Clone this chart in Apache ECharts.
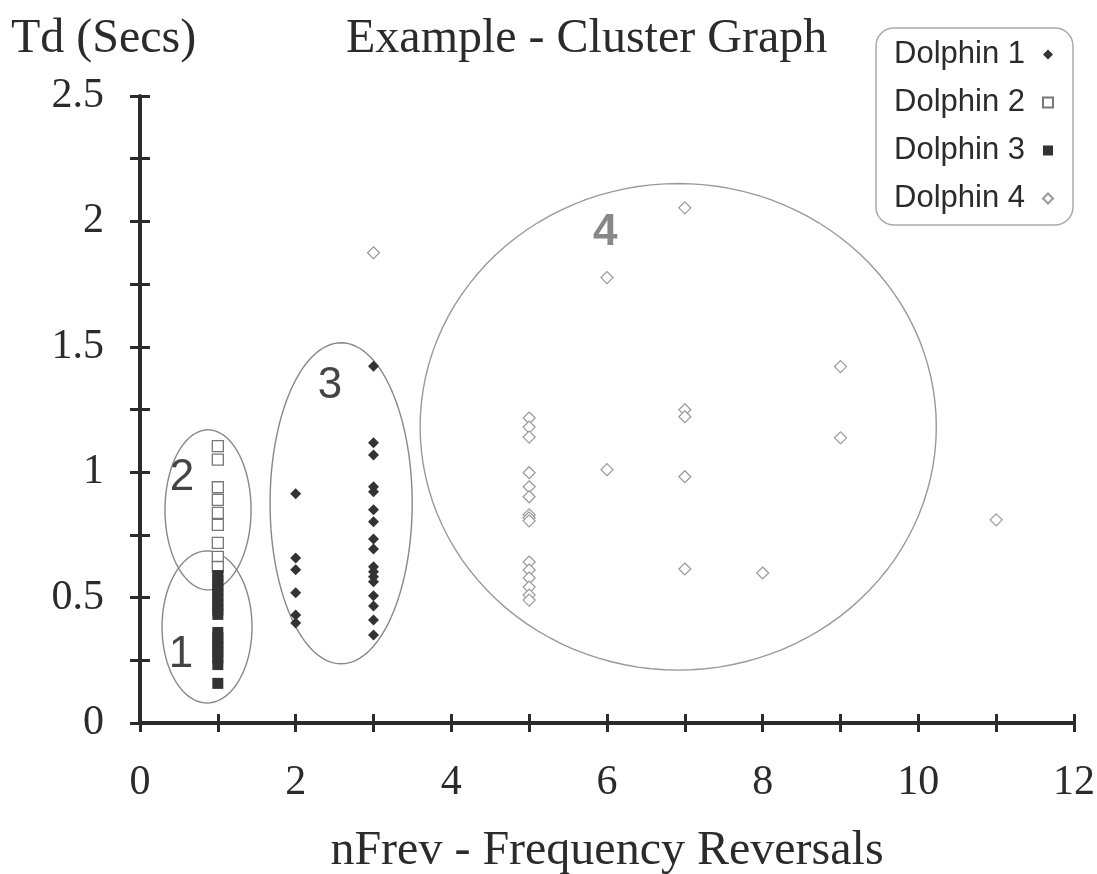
<!DOCTYPE html>
<html>
<head>
<meta charset="utf-8">
<script src="https://cdn.jsdelivr.net/npm/echarts@6/dist/echarts.min.js"></script>
<style>html,body{margin:0;padding:0;background:#fff;}#chart{width:1097px;height:874px;}</style>
</head>
<body>
<div id="chart"></div>
<script>
// Dolphin 1 (filled diamonds)
const dolphin1X = [2, 2, 2, 2, 2, 2, 3, 3, 3, 3, 3, 3, 3, 3, 3, 3, 3, 3, 3, 3, 3, 3, 3];
const dolphin1Y = [0.914, 0.658, 0.611, 0.519, 0.431, 0.399,
  1.422, 1.117, 1.069, 0.942, 0.922, 0.850, 0.802, 0.734, 0.694, 0.623, 0.603, 0.583, 0.563, 0.507, 0.467, 0.411, 0.351];
// Dolphin 2 (open squares)
const dolphin2X = [1, 1, 1, 1, 1, 1, 1, 1, 1];
const dolphin2Y = [1.104, 1.05, 0.94, 0.89, 0.838, 0.79, 0.718, 0.662, 0.622];
// Dolphin 3 (filled squares)
const dolphin3X = [1, 1, 1, 1, 1, 1, 1, 1, 1, 1, 1, 1, 1, 1, 1, 1, 1];
const dolphin3Y = [0.588, 0.57, 0.55, 0.53, 0.51, 0.49, 0.47, 0.45, 0.433,
  0.361, 0.34, 0.32, 0.30, 0.28, 0.26, 0.233, 0.158];
// Dolphin 4 (open diamonds)
const dolphin4X = [3, 6, 7, 7, 7, 6, 7, 7, 8, 9, 9, 11,
  5, 5, 5, 5, 5, 5, 5, 5, 5, 5, 5, 5, 5, 5, 5];
const dolphin4Y = [1.875, 1.776, 2.054, 1.249, 1.221, 1.010, 0.982, 0.614, 0.598, 1.421, 1.137, 0.810,
  1.216, 1.18, 1.14, 0.998, 0.942, 0.902, 0.83, 0.818, 0.806, 0.642, 0.61, 0.578, 0.542, 0.51, 0.49];

// Cluster ellipses (data units) and their labels
const clusterNames = ['1', '2', '3', '4'];
const clusterCx = [0.861, 0.874, 2.584, 6.915];
const clusterCy = [0.383, 0.850, 0.876, 1.181];
const clusterRx = [0.578, 0.553, 0.913, 3.316];
const clusterRy = [0.303, 0.319, 0.640, 0.970];
const clusterLabelX = [0.527, 0.54, 2.442, 5.977];
const clusterLabelY = [0.271, 0.978, 1.345, 1.955];

const seriesNames = ['Dolphin 1', 'Dolphin 2', 'Dolphin 3', 'Dolphin 4'];
const xTickLabels = ['0', '2', '4', '6', '8', '10', '12'];
const yTickLabels = ['0', '0.5', '1', '1.5', '2', '2.5'];

const zip = (xs, ys) => xs.map((x, i) => [x, ys[i]]);
const serif = 'Liberation Serif';
const sans = 'Liberation Sans';
const dark = '#2b2b2b';

const chart = echarts.init(document.getElementById('chart'), null, {renderer: 'canvas'});

const baseX = {
  type: 'value', min: 0, max: 12, interval: 1, position: 'bottom',
  splitLine: {show: false}
};
const baseY = {
  type: 'value', min: 0, max: 2.5, interval: 0.25, position: 'left',
  splitLine: {show: false}
};

const option = {
  backgroundColor: '#fff',
  animation: false,
  title: [
    {text: 'Example - Cluster Graph', left: 341, top: 10,
      textStyle: {fontFamily: serif, fontSize: 48, fontWeight: 'normal', color: dark}},
    {text: 'Td (Secs)', left: 6, top: 10,
      textStyle: {fontFamily: serif, fontSize: 48, fontWeight: 'normal', color: dark}}
  ],
  legend: {
    data: seriesNames,
    orient: 'vertical',
    align: 'right',
    left: 876, top: 28,
    padding: [11, 19, 11, 18],
    itemGap: 17,
    itemWidth: 10, itemHeight: 10,
    borderColor: '#aaa', borderWidth: 1.5, borderRadius: 18,
    textStyle: {fontFamily: sans, fontSize: 31, color: dark, padding: [0, 13, 0, 0]}
  },
  grid: {left: 140, right: 23, top: 96, bottom: 151, containLabel: false, outerBoundsMode: 'none'},
  xAxis: [
    Object.assign({}, baseX, {
      axisLine: {show: true, onZero: false, lineStyle: {color: dark, width: 4}},
      axisTick: {show: true, inside: false, length: 9, lineStyle: {color: dark, width: 3}},
      axisLabel: {
        margin: 39, fontFamily: serif, fontSize: 42, color: dark,
        formatter: v => xTickLabels.indexOf(String(v)) >= 0 ? String(v) : ''
      },
      name: 'nFrev - Frequency Reversals', nameLocation: 'middle', nameGap: 104,
      nameTextStyle: {fontFamily: serif, fontSize: 48, color: dark}
    }),
    Object.assign({}, baseX, {
      axisLine: {show: false},
      axisTick: {show: true, inside: true, length: 9, lineStyle: {color: dark, width: 3}},
      axisLabel: {show: false}
    })
  ],
  yAxis: [
    Object.assign({}, baseY, {
      axisLine: {show: true, onZero: false, lineStyle: {color: dark, width: 4}},
      axisTick: {show: true, inside: false, length: 10, lineStyle: {color: dark, width: 3}},
      axisLabel: {
        margin: 36, fontFamily: serif, fontSize: 42, color: dark,
        formatter: v => {
          const s = String(Math.round(v * 100) / 100);
          return yTickLabels.indexOf(s) >= 0 ? s : '';
        }
      }
    }),
    Object.assign({}, baseY, {
      axisLine: {show: false},
      axisTick: {show: true, inside: true, length: 10, lineStyle: {color: dark, width: 3}},
      axisLabel: {show: false}
    })
  ],
  series: [
    {
      type: 'custom',
      coordinateSystem: 'cartesian2d',
      xAxisIndex: 0, yAxisIndex: 0,
      silent: true, z: 1,
      data: clusterNames.map((n, i) => [clusterCx[i], clusterCy[i], clusterRx[i], clusterRy[i], clusterLabelX[i], clusterLabelY[i], i]),
      renderItem: function (params, api) {
        const cx = api.value(0), cy = api.value(1), rx = api.value(2), ry = api.value(3);
        const idx = api.value(6);
        const pts = [];
        for (let k = 0; k < 120; k++) {
          const t = 2 * Math.PI * k / 120;
          pts.push(api.coord([cx + rx * Math.cos(t), cy + ry * Math.sin(t)]));
        }
        const lp = api.coord([api.value(4), api.value(5)]);
        const isFour = idx === 3;
        return {
          type: 'group',
          children: [
            {type: 'polygon', shape: {points: pts},
              style: {fill: 'none', stroke: isFour ? '#999' : '#888', lineWidth: 1.4}},
            {type: 'text', x: lp[0], y: lp[1],
              style: {text: clusterNames[idx], fontFamily: sans, fontSize: 44,
                fontWeight: isFour ? 'bold' : 'normal',
                fill: isFour ? '#888' : '#444', align: 'center', verticalAlign: 'middle'}}
          ]
        };
      }
    },
    {
      name: 'Dolphin 1', type: 'scatter', z: 3,
      symbol: 'diamond', symbolSize: 11,
      itemStyle: {color: '#333', opacity: 1},
      data: zip(dolphin1X, dolphin1Y)
    },
    {
      name: 'Dolphin 2', type: 'scatter', z: 3,
      symbol: 'rect', symbolSize: 11,
      itemStyle: {color: '#fff', borderColor: '#777', borderWidth: 1.3, opacity: 1},
      data: zip(dolphin2X, dolphin2Y)
    },
    {
      name: 'Dolphin 3', type: 'scatter', z: 3,
      symbol: 'rect', symbolSize: 11,
      itemStyle: {color: '#333', opacity: 1},
      data: zip(dolphin3X, dolphin3Y)
    },
    {
      name: 'Dolphin 4', type: 'scatter', z: 3,
      symbol: 'diamond', symbolSize: 12,
      itemStyle: {color: '#fff', borderColor: '#999', borderWidth: 1.2, opacity: 1},
      data: zip(dolphin4X, dolphin4Y)
    }
  ]
};
chart.setOption(option);
</script>
</body>
</html>
